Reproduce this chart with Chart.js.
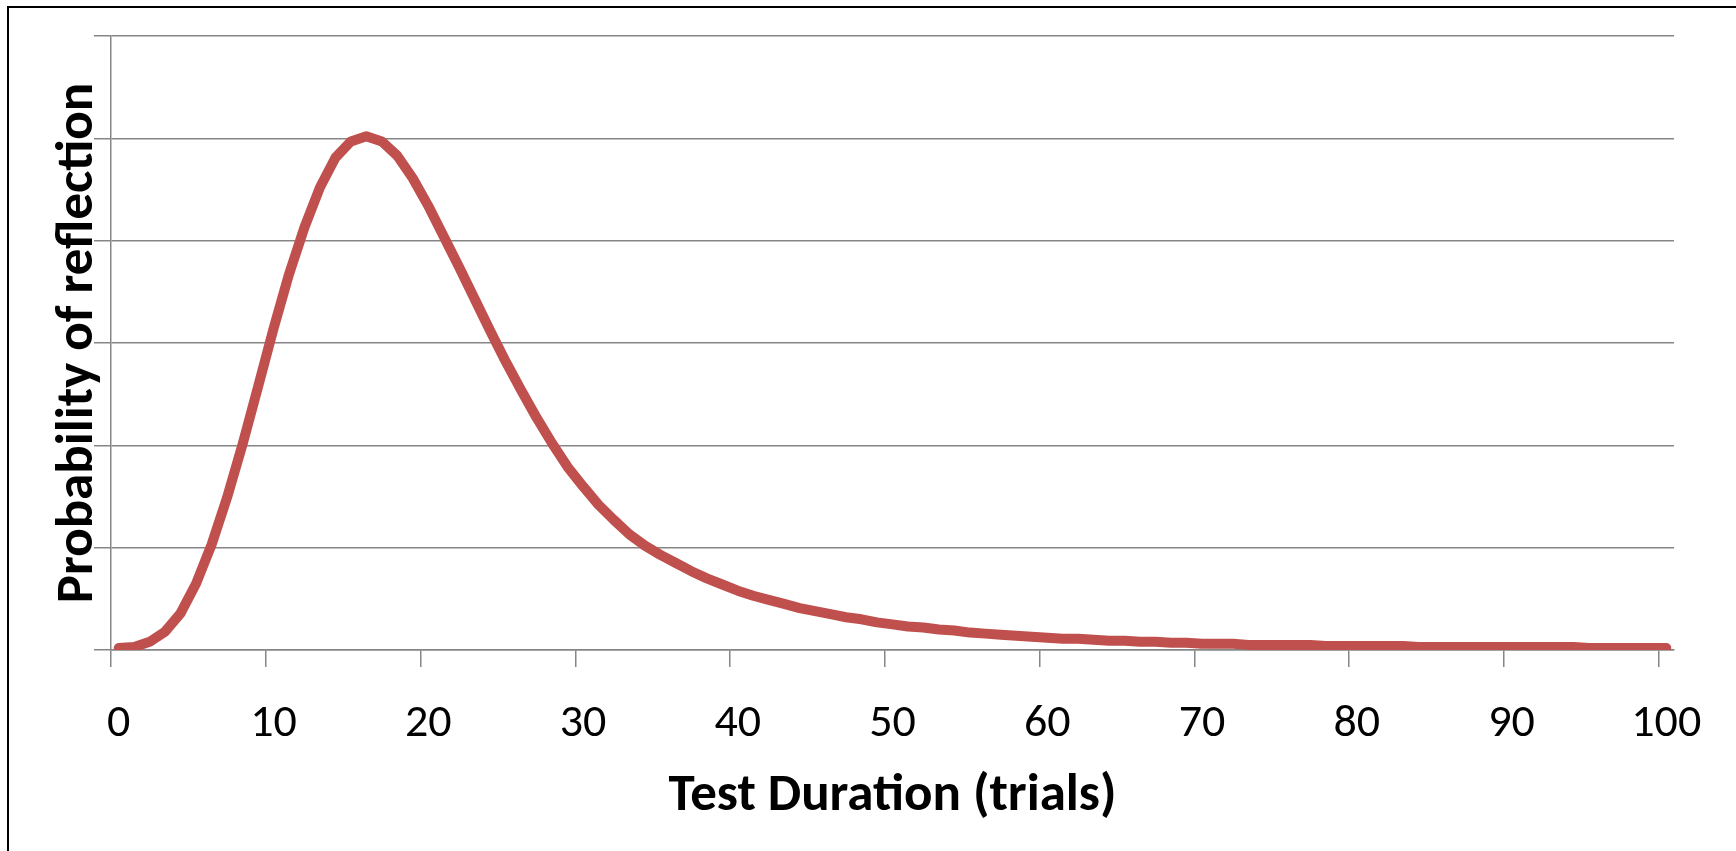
<!DOCTYPE html>
<html>
<head>
<meta charset="utf-8">
<title>Probability of reflection</title>
<script src="https://cdn.jsdelivr.net/npm/chart.js@4.4.1/dist/chart.umd.min.js"></script>
<style>
  html, body { margin: 0; padding: 0; background: #fff; overflow: hidden; }
  #marco { position: absolute; left: 7px; top: 6px; width: 2000px; height: 1200px; border: 2px solid #000; }
  #contenedor { position: absolute; left: 0; top: 0; width: 1736px; height: 851px; }
</style>
</head>
<body>
<div id="marco"></div>
<div id="contenedor"><canvas id="grafico"></canvas></div>
<script>
// Categorias del eje X (duracion de la prueba, en ensayos)
const trials = [
  0, 1, 2, 3, 4, 5, 6, 7, 8, 9, 10, 11, 12, 13, 14, 15, 16, 17, 18, 19, 20,
  21, 22, 23, 24, 25, 26, 27, 28, 29, 30, 31, 32, 33, 34, 35, 36, 37, 38, 39, 40,
  41, 42, 43, 44, 45, 46, 47, 48, 49, 50, 51, 52, 53, 54, 55, 56, 57, 58, 59, 60,
  61, 62, 63, 64, 65, 66, 67, 68, 69, 70, 71, 72, 73, 74, 75, 76, 77, 78, 79, 80,
  81, 82, 83, 84, 85, 86, 87, 88, 89, 90, 91, 92, 93, 94, 95, 96, 97, 98, 99, 100
];

// Probabilidad (una por ensayo)
const reflectionProb = [
  0.0002, 0.0003, 0.0008, 0.0018, 0.0036, 0.0065, 0.0103, 0.0149, 0.0201, 0.0257,
  0.0314, 0.0367, 0.0413, 0.0452, 0.0481, 0.0497, 0.0502, 0.0497, 0.0483, 0.0461,
  0.0434, 0.0404, 0.0374, 0.0343, 0.0312, 0.0282, 0.0254, 0.0227, 0.0202, 0.0179,
  0.0160, 0.0142, 0.0127, 0.0113, 0.0102, 0.0093, 0.0085, 0.0077, 0.0070, 0.0064,
  0.0058, 0.0053, 0.0049, 0.0045, 0.0041, 0.0038, 0.0035, 0.0032, 0.0030, 0.0027,
  0.0025, 0.0023, 0.0022, 0.0020, 0.0019, 0.0017, 0.0016, 0.0015, 0.0014, 0.0013,
  0.0012, 0.0011, 0.0011, 0.0010, 0.0009, 0.0009, 0.0008, 0.0008, 0.0007, 0.0007,
  0.0006, 0.0006, 0.0006, 0.0005, 0.0005, 0.0005, 0.0005, 0.0005, 0.0004, 0.0004,
  0.0004, 0.0004, 0.0004, 0.0004, 0.0003, 0.0003, 0.0003, 0.0003, 0.0003, 0.0003,
  0.0003, 0.0003, 0.0003, 0.0003, 0.0003, 0.0002, 0.0002, 0.0002, 0.0002, 0.0002,
  0.0002
];

// Etiquetas visibles del eje X
const xTickLabels = ["0", "10", "20", "30", "40", "50", "60", "70", "80", "90", "100"];

// Eje Y: lineas de division sin etiquetas
const yMin = 0;
const yMax = 0.06;
const yStep = 0.01;

const gris = "#868686";
const fuenteNormal = "Carlito, Calibri, Lato, sans-serif";

const ctx = document.getElementById("grafico").getContext("2d");

const chart = new Chart(ctx, {
  type: "line",
  data: {
    labels: trials.map(String),
    datasets: [
      {
        label: "Probability of reflection",
        data: reflectionProb,
        borderColor: "#C0504D",
        borderWidth: 10,
        borderCapStyle: "round",
        borderJoinStyle: "round",
        pointRadius: 0,
        tension: 0,
        fill: false,
      },
    ],
  },
  options: {
    responsive: true,
    maintainAspectRatio: false,
    animation: false,
    layout: { padding: { left: 0, top: 36, right: 62, bottom: 0 } },
    plugins: {
      legend: { display: false },
      tooltip: { enabled: false },
    },
    scales: {
      x: {
        type: "category",
        offset: true,
        grid: {
          offset: true,
          drawOnChartArea: false,
          tickLength: 17,
          lineWidth: 1.5,
          color: (c) => (c.index !== undefined && c.index % 10 === 0 ? gris : "rgba(0,0,0,0)"),
        },
        border: { display: true, color: gris, width: 1.5 },
        ticks: {
          autoSkip: false,
          maxRotation: 0,
          padding: 30,
          color: "#000",
          font: { family: fuenteNormal, size: 46 },
          callback: function (value) {
            const lab = this.getLabelForValue(value);
            return xTickLabels.includes(lab) ? lab : "";
          },
        },
        title: {
          display: true,
          text: "Test Duration (trials)",
          color: "#000",
          font: { family: fuenteNormal, size: 53, weight: "bold" },
          padding: { top: 0, bottom: 22 },
        },
        afterFit: (scale) => { scale.height = 201; },
      },
      y: {
        min: yMin,
        max: yMax,
        ticks: { stepSize: yStep, display: false },
        grid: { color: gris, lineWidth: 1.5, tickLength: 17 },
        border: { display: true, color: gris, width: 1.5 },
        title: {
          display: true,
          text: "Probability of reflection",
          color: "#000",
          font: { family: fuenteNormal, size: 53, weight: "bold" },
          padding: { top: 47, bottom: 0 },
        },
        afterFit: (scale) => { scale.width = 111; },
      },
    },
  },
});
</script>
</body>
</html>
